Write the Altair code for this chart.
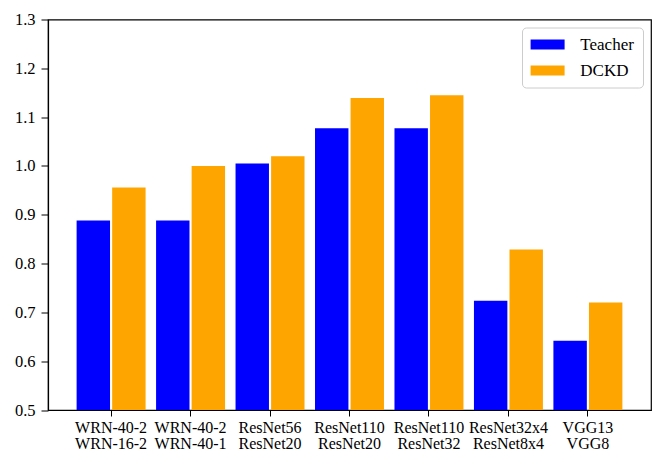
import altair as alt
import pandas as pd

categories = ["WRN-40-2\nWRN-16-2", "WRN-40-2\nWRN-40-1", "ResNet56\nResNet20",
              "ResNet110\nResNet20", "ResNet110\nResNet32", "ResNet32x4\nResNet8x4",
              "VGG13\nVGG8"]
teacher = [0.888, 0.888, 1.005, 1.077, 1.077, 0.724, 0.642]
dckd = [0.956, 1.000, 1.020, 1.139, 1.145, 0.829, 0.720]
series = ["Teacher", "DCKD"]
colors = ["#0000ff", "#ffa500"]
y_ticks = [0.5, 0.6, 0.7, 0.8, 0.9, 1.0, 1.1, 1.2, 1.3]

rows = []
for c, t, d in zip(categories, teacher, dckd):
    rows.append({"pair": c, "model": "Teacher", "value": t})
    rows.append({"pair": c, "model": "DCKD", "value": d})
df = pd.DataFrame(rows)

FONT = "Liberation Serif, Times New Roman, serif"

chart = alt.Chart(df).mark_bar(clip=True).encode(
    x=alt.X("pair:N", sort=categories,
            scale=alt.Scale(paddingInner=0.132, paddingOuter=0.36),
            axis=alt.Axis(title=None, labelAngle=0,
                          labelExpr="split(datum.label, '\\n')",
                          labelFont=FONT, labelFontSize=16, labelColor="black",
                          labelLineHeight=16.7, labelPadding=3,
                          tickSize=6, tickColor="black", tickWidth=1,
                          domainColor="black", domainWidth=1.2)),
    xOffset=alt.XOffset("model:N", sort=series,
                        scale=alt.Scale(paddingInner=0.06)),
    y=alt.Y("value:Q",
            scale=alt.Scale(domain=[0.5, 1.3], zero=False, nice=False),
            axis=alt.Axis(title=None, values=y_ticks, format=".1f",
                          labelFont=FONT, labelFontSize=16.5, labelColor="black",
                          labelPadding=6, tickSize=7, tickColor="black",
                          tickWidth=1, grid=False,
                          domainColor="black", domainWidth=1.2)),
    color=alt.Color("model:N", sort=series,
                    scale=alt.Scale(domain=series, range=colors),
                    legend=alt.Legend(title=None, orient="top-right", offset=8,
                                      fillColor="white", strokeColor="#cccccc",
                                      cornerRadius=4, padding=8.6,
                                      symbolType="M-1,-0.59H3V0.59H-1Z",
                                      symbolSize=289, symbolStrokeWidth=0,
                                      symbolOpacity=1,
                                      labelFont=FONT, labelFontSize=17,
                                      labelColor="black",
                                      rowPadding=8, labelOffset=32.7)),
).properties(
    width=603, height=390.5,
    autosize=alt.AutoSizeParams(type="none"),
    padding={"left": 40, "top": 11.5, "right": 5, "bottom": 50},
).configure(
    font=FONT
).configure_view(
    stroke="black", strokeWidth=1.2
)

chart.save("out.html", embed_options={"renderer": "svg", "actions": False})
